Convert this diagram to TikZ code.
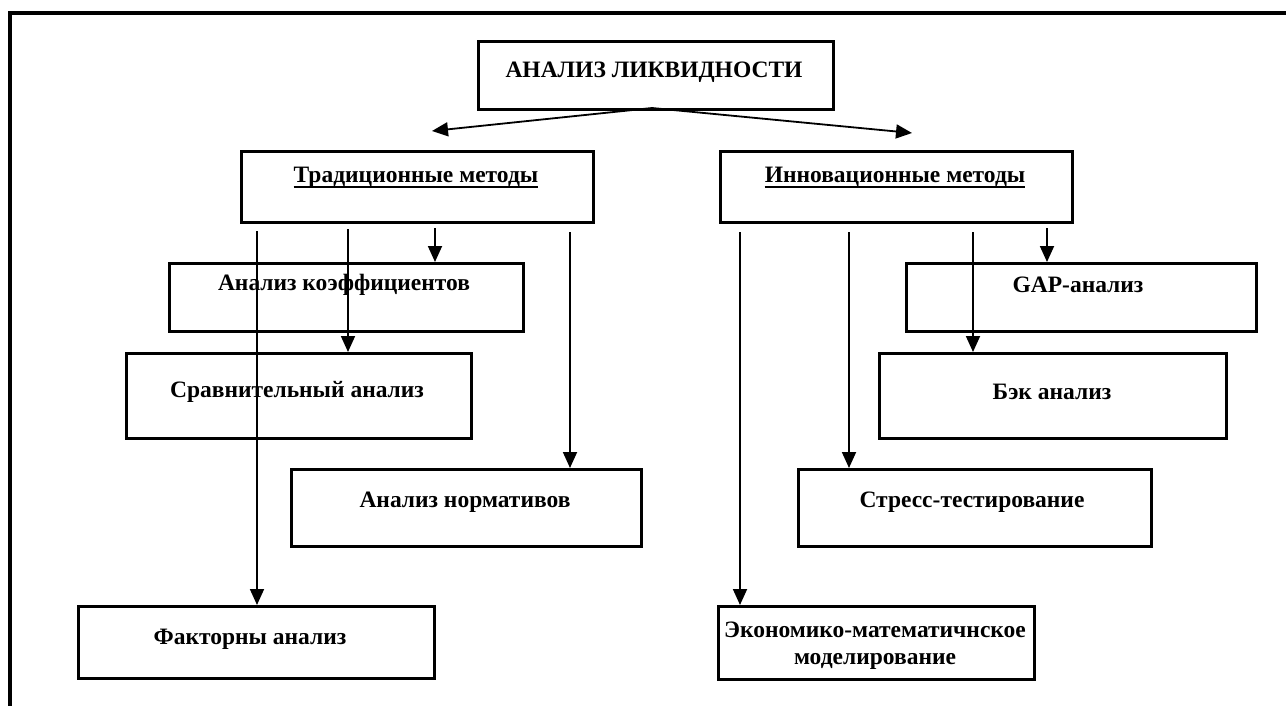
\documentclass[tikz,border=0pt]{standalone}
\usepackage{fontspec}
\setmainfont{Liberation Serif}
\usetikzlibrary{arrows.meta}
\begin{document}
\begin{tikzpicture}[x=1pt,y=-1pt,
  box/.style={draw=black, line width=3pt, anchor=north west, inner sep=0pt},
  lbl/.style={font=\fontsize{23.5}{27}\selectfont\bfseries, align=center, inner sep=0pt},
  uline/.style={line width=2.2pt},
  arr/.style={line width=1.8pt, -{Triangle[width=14pt,length=16pt]}}]
\useasboundingbox (0,0) rectangle (1286,706);
% frame
\draw[line width=3.2pt, black] (10,706) -- (10,13) -- (1290,13);
% boxes
\node[box, minimum width=355pt, minimum height=68pt] (top) at (477,40) {};
\node[box, minimum width=352pt, minimum height=71pt] (trad) at (240,150) {};
\node[box, minimum width=352pt, minimum height=71pt] (innov) at (719,150) {};
\node[box, minimum width=354pt, minimum height=68pt] (koef) at (168,262) {};
\node[box, minimum width=345pt, minimum height=85pt] (srav) at (125,352) {};
\node[box, minimum width=350pt, minimum height=77pt] (norm) at (290,468) {};
\node[box, minimum width=356pt, minimum height=72pt] (fakt) at (77,605) {};
\node[box, minimum width=350pt, minimum height=68pt] (gap) at (905,262) {};
\node[box, minimum width=347pt, minimum height=85pt] (bek) at (878,352) {};
\node[box, minimum width=353pt, minimum height=77pt] (stress) at (797,468) {};
\node[box, minimum width=316pt, minimum height=73pt] (econ) at (717,605) {};
% labels
\node[lbl] (ttop) at (654,72) {АНАЛИЗ ЛИКВИДНОСТИ};
\node[lbl] (ttrad) at (416,177) {Традиционные методы};
\node[lbl] (tinnov) at (895,177) {Инновационные методы};
\draw[uline] ([yshift=-4.5pt]ttrad.base west) -- ([yshift=-4.5pt]ttrad.base east);
\draw[uline] ([yshift=-4.5pt]tinnov.base west) -- ([yshift=-4.5pt]tinnov.base east);
\node[lbl] (tkoef) at (344,285) {Анализ коэффициентов};
\node[lbl] (tsrav) at (297,392) {Сравнительный анализ};
\node[lbl] (tnorm) at (465,502) {Анализ нормативов};
\node[lbl] (tfakt) at (250,639) {Факторны анализ};
\node[lbl] (tgap) at (1078,285) {GAP-анализ};
\node[lbl] (tbek) at (1052,392) {Бэк анализ};
\node[lbl] (tstress) at (972,502) {Стресс-тестирование};
\begin{scope}
\clip (717,605) rectangle (1033,668);
\node[lbl] (tecon) at (875,646) {Экономико-математичнское\\моделирование};
\end{scope}
% top arrows
\coordinate (tb) at (652,108);
\coordinate (lt) at (432,131);
\coordinate (rt) at (912,133);
\draw[arr] (tb) -- (lt);
\draw[arr] (tb) -- (rt);
% left vertical arrows
\coordinate (l1) at (257,231);
\coordinate (l2) at (348,229);
\coordinate (l3) at (435,228);
\coordinate (l4) at (570,232);
\draw[arr] (l1) -- (l1 |- fakt.north);
\draw[arr] (l2) -- (l2 |- srav.north);
\draw[arr] (l3) -- (l3 |- koef.north);
\draw[arr] (l4) -- (l4 |- norm.north);
% right vertical arrows
\coordinate (r1) at (740,232);
\coordinate (r2) at (849,232);
\coordinate (r3) at (973,232);
\coordinate (r4) at (1047,228);
\draw[arr] (r1) -- (r1 |- econ.north);
\draw[arr] (r2) -- (r2 |- stress.north);
\draw[arr] (r3) -- (r3 |- bek.north);
\draw[arr] (r4) -- (r4 |- gap.north);
\end{tikzpicture}
\end{document}
